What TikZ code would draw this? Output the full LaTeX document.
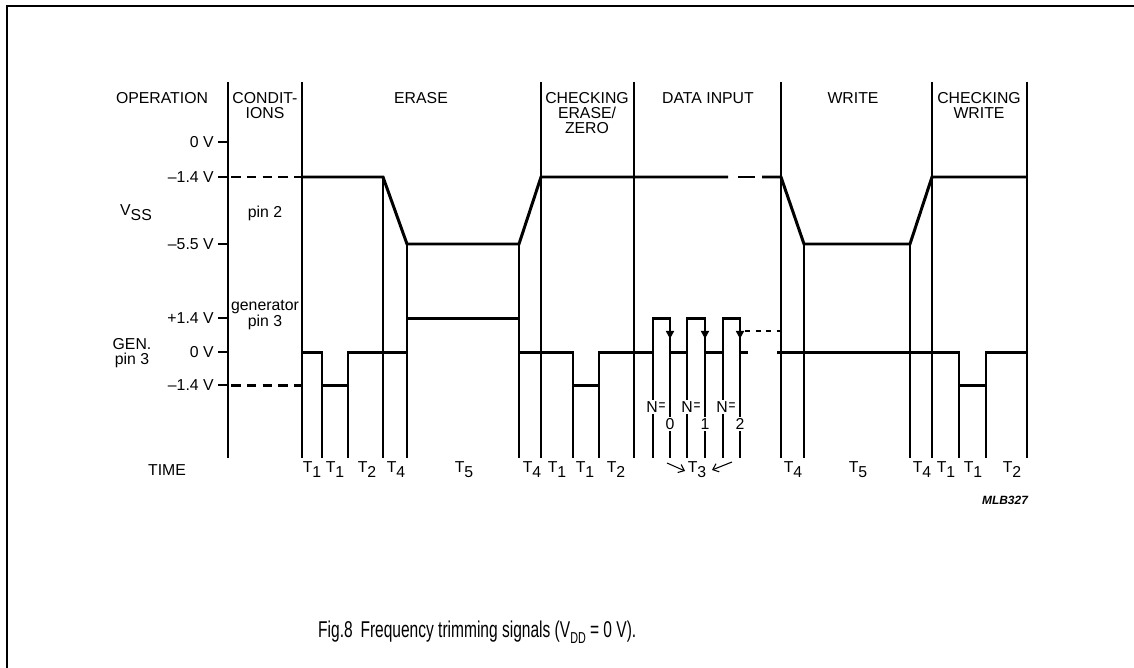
\documentclass[tikz,border=0pt]{standalone}
\usepackage{fontspec}
\setmainfont{Liberation Sans}
\usetikzlibrary{arrows.meta}
\newcommand{\Tsub}[1]{T\raisebox{-0.55ex}{#1}}
\begin{document}
\begin{tikzpicture}[x=0.02cm,y=-0.02cm,
  thinln/.style={line width=0.6pt},
  sig/.style={line width=1.7pt,line join=miter},
  sigdash/.style={sig,dash pattern=on 5.5pt off 3.5pt},
  lbl/.style={font=\fontsize{9}{8.6}\selectfont,inner sep=0pt,align=center}]
\useasboundingbox (0,0) rectangle (1134,668);
% frame
\draw[line width=1pt] (7,668) -- (7,6) -- (1134,6);
% column separators and time marks
\foreach \x in {228,302,541,634,781,932,1027}
  \draw[thinln] (\x,82) -- (\x,458);
\draw[thinln] (383,177) -- (383,458);
\foreach \x in {407,519,804,910}
  \draw[thinln] (\x,244) -- (\x,458);
\foreach \x in {322,348,573,599,959,986}
  \draw[thinln] (\x,385) -- (\x,458);
\foreach \x in {653,670,687,705,723,740}
  \draw[thinln] (\x,352) -- (\x,458);
% level ticks
\foreach \y in {142,177,244,318,352,385}
  \draw[thinln] (218,\y) -- (228,\y);
\node[lbl,anchor=east] (v0) at (214,142) {0 V};
\node[lbl,anchor=east] (vm14) at (214,177) {\textendash1.4 V};
\node[lbl,anchor=east] (vm55) at (214,244) {\textendash5.5 V};
\node[lbl,anchor=east] (gp14) at (214,318) {+1.4 V};
\node[lbl,anchor=east] (g0) at (214,352) {0 V};
\node[lbl,anchor=east] (gm14) at (214,385) {\textendash1.4 V};
% headers
\node[lbl] (hop) at (162,98) {OPERATION};
\node[lbl,anchor=north] (hcond) at (265,92) {CONDIT-\\IONS};
\node[lbl] (herase) at (421,98) {ERASE};
\node[lbl,anchor=north] (hcheck) at (587,92) {CHECKING\\ERASE/\\ZERO};
\node[lbl] (hdata) at (708,98) {DATA INPUT};
\node[lbl] (hwrite) at (853,98) {WRITE};
\node[lbl,anchor=north] (hcheckw) at (979,92) {CHECKING\\WRITE};
% signal names
\node[lbl] (vss) at (136,213) {V\raisebox{-0.6ex}{SS}};
\node[lbl] (pin2) at (265,213) {pin 2};
\node[lbl] (gen) at (132,353) {GEN.\\pin 3};
\node[lbl] (genpin) at (265,315) {generator\\pin 3};
\node[lbl] (time) at (167,470) {TIME};
% V_SS
\draw[sigdash] (231,177) -- (302,177);
\draw[sig] (302,177) -- (383,177) -- (407,244) -- (519,244) -- (541,177) -- (728,177);
\draw[sig] (738,177) -- (755,177);
\draw[sig] (762,177) -- (781,177) -- (804,244) -- (910,244) -- (932,177) -- (1027,177);
% generator pin 3
\begin{scope}[yshift=-0.5pt]
\draw[sigdash] (231,385) -- (302,385);
\draw[sig] (302,385) -- (302,352) -- (322,352) -- (322,385) -- (348,385) -- (348,352)
  -- (407,352) -- (407,318) -- (519,318) -- (519,352) -- (573,352) -- (573,385)
  -- (599,385) -- (599,352) -- (653,352) -- (653,318) -- (670,318) -- (670,352)
  -- (687,352) -- (687,318) -- (705,318) -- (705,352) -- (723,352) -- (723,318)
  -- (740,318) -- (740,352) -- (748,352);
\foreach \x in {670,705,740}
  \draw[sig,-{Triangle[length=4.5pt,width=4.5pt]}] (\x,318) -- (\x,338);
\draw[sig] (777,352) -- (959,352) -- (959,385) -- (986,385) -- (986,352) -- (1028,352);
\end{scope}
\draw[thinln,dashed] (745,331) -- (781,331);
% data bits
\foreach \n/\x in {0/652,1/687,2/722} {
  \node[lbl,fill=white,inner sep=1pt] (n\n) at (\x,407) {N};
  \node[lbl,xscale=0.75] (eq\n) at (\x+10,407) {=};
  \node[lbl,fill=white,inner sep=1pt] (d\n) at (\x+18,424) {\n};
}
% time labels
\foreach \x/\t in {312/1,335/1,367/2,396/4,464/5,532/4,557/1,585/1,616/2,
                   793/4,858/5,922/4,946/1,973/1,1012/2}
  \node[lbl,anchor=base] at (\x,473) {\Tsub{\t}};
\node[lbl,anchor=base] (t3) at (697,473) {\Tsub{3}};
\draw[thinln,-{Straight Barb[length=3pt,width=5pt]}] (667,463) -- (685,471);
\draw[thinln,-{Straight Barb[length=3pt,width=5pt]}] (732,462) -- (712,470);
\node[font=\fontsize{6.8}{8}\selectfont\bfseries\itshape,inner sep=0pt] (mlb) at (1005,500) {MLB327};
% caption
\node[font=\fontsize{13}{15}\selectfont,inner sep=0pt,xscale=0.68,anchor=west] (cap) at (318,632)
  {Fig.8\enspace Frequency trimming signals (V\raisebox{-0.5ex}{\fontsize{9}{10}\selectfont DD} = 0 V).};
\end{tikzpicture}
\end{document}
